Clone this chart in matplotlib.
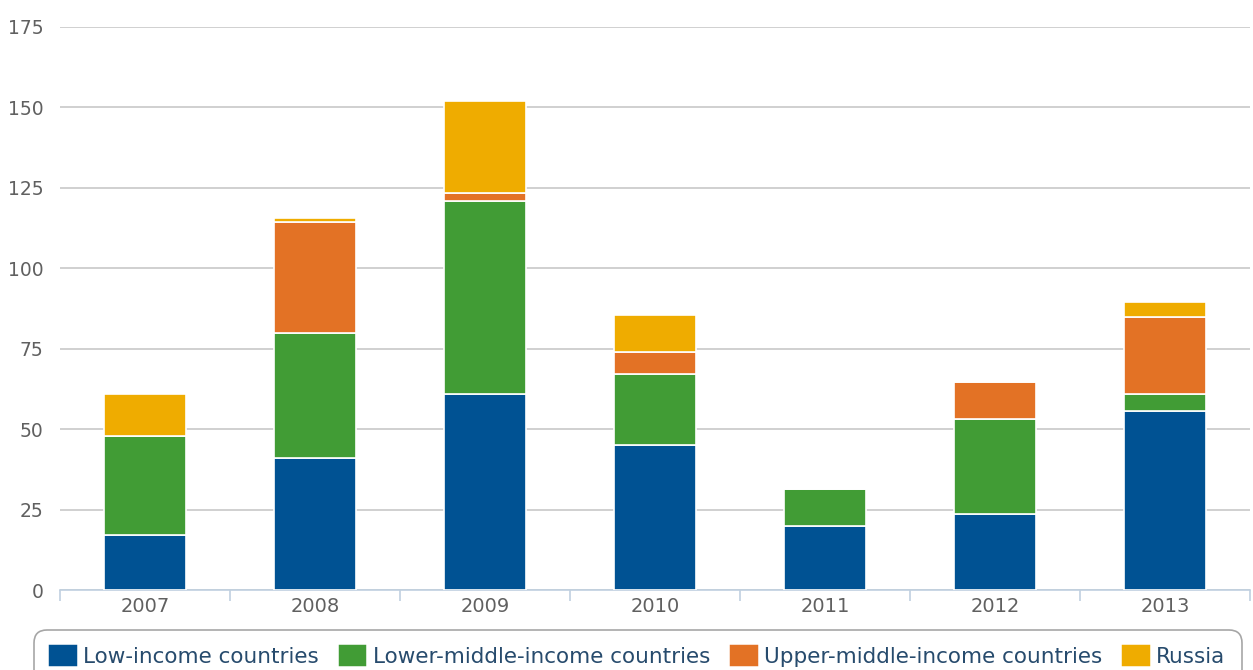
import numpy as np
import matplotlib
matplotlib.use("Agg")
import matplotlib.pyplot as plt
from matplotlib.patches import Patch

years = ["2007", "2008", "2009", "2010", "2011", "2012", "2013"]
low_income = [17, 41, 61, 45, 20, 23.7, 55.5]
lower_middle = [31, 39, 60, 22, 11.5, 29.3, 5.5]
upper_middle = [0, 34.5, 2.3, 7, 0, 11.6, 23.8]
russia = [13, 1, 28.7, 11.6, 0, 0, 4.6]

series = [low_income, lower_middle, upper_middle, russia]
names = ["Low-income countries", "Lower-middle-income countries",
         "Upper-middle-income countries", "Russia"]
colors = ["#005293", "#419c35", "#e37225", "#efac00"]

plt.rcParams["font.family"] = ["DejaVu Sans"]

fig = plt.figure(figsize=(12.53, 6.70), dpi=100)
ax = fig.add_axes([60/1253, 1 - 590/670, 1190/1253, (590 - 27)/670])

x = np.arange(len(years))
bottom = np.zeros(len(years))
for vals, name, col in zip(series, names, colors):
    vals = np.array(vals, dtype=float)
    ax.bar(x, vals, width=0.48, bottom=bottom, color=col,
           edgecolor="white", linewidth=1.2, label=name, zorder=3)
    bottom += vals

ax.set_xlim(-0.5, len(years) - 0.5)
ax.set_ylim(0, 175)
ax.set_yticks(np.arange(0, 176, 25))
ax.yaxis.grid(True, color="#c8c8c8", linewidth=1.2, zorder=0)
ax.set_axisbelow(True)

for s in ["top", "right", "left"]:
    ax.spines[s].set_visible(False)
ax.spines["bottom"].set_color("#c0d0e0")
ax.spines["bottom"].set_linewidth(1.2)

ax.set_xticks(x)
ax.set_xticklabels(years)
ax.set_xticks(np.arange(-0.5, len(years), 1), minor=True)
ax.tick_params(axis="x", which="major", length=0, pad=5, labelsize=14, colors="#606060")
ax.tick_params(axis="x", which="minor", length=8, color="#c0d0e0", width=1.2)
ax.tick_params(axis="y", length=0, pad=12, labelsize=13.5, colors="#606060")

# legend markers with rounded corners
handles = [Patch(facecolor=c, edgecolor=c, linewidth=2.5, joinstyle="round") for c in colors]
leg = fig.legend(handles=handles, labels=names, loc="upper center",
                 bbox_to_anchor=(0.509, 1 - 630/670), ncol=4, frameon=True,
                 fontsize=15.5, handlelength=1.15, handleheight=0.9,
                 handletextpad=0.4, columnspacing=0.95, borderpad=0.75,
                 borderaxespad=0, fancybox=True, edgecolor="#909090",
                 labelcolor="#274b6d")
leg.get_frame().set_linewidth(1.2)
leg.get_frame().set_boxstyle("round,pad=0,rounding_size=0.6")

fig.savefig("out.png", dpi=100)
